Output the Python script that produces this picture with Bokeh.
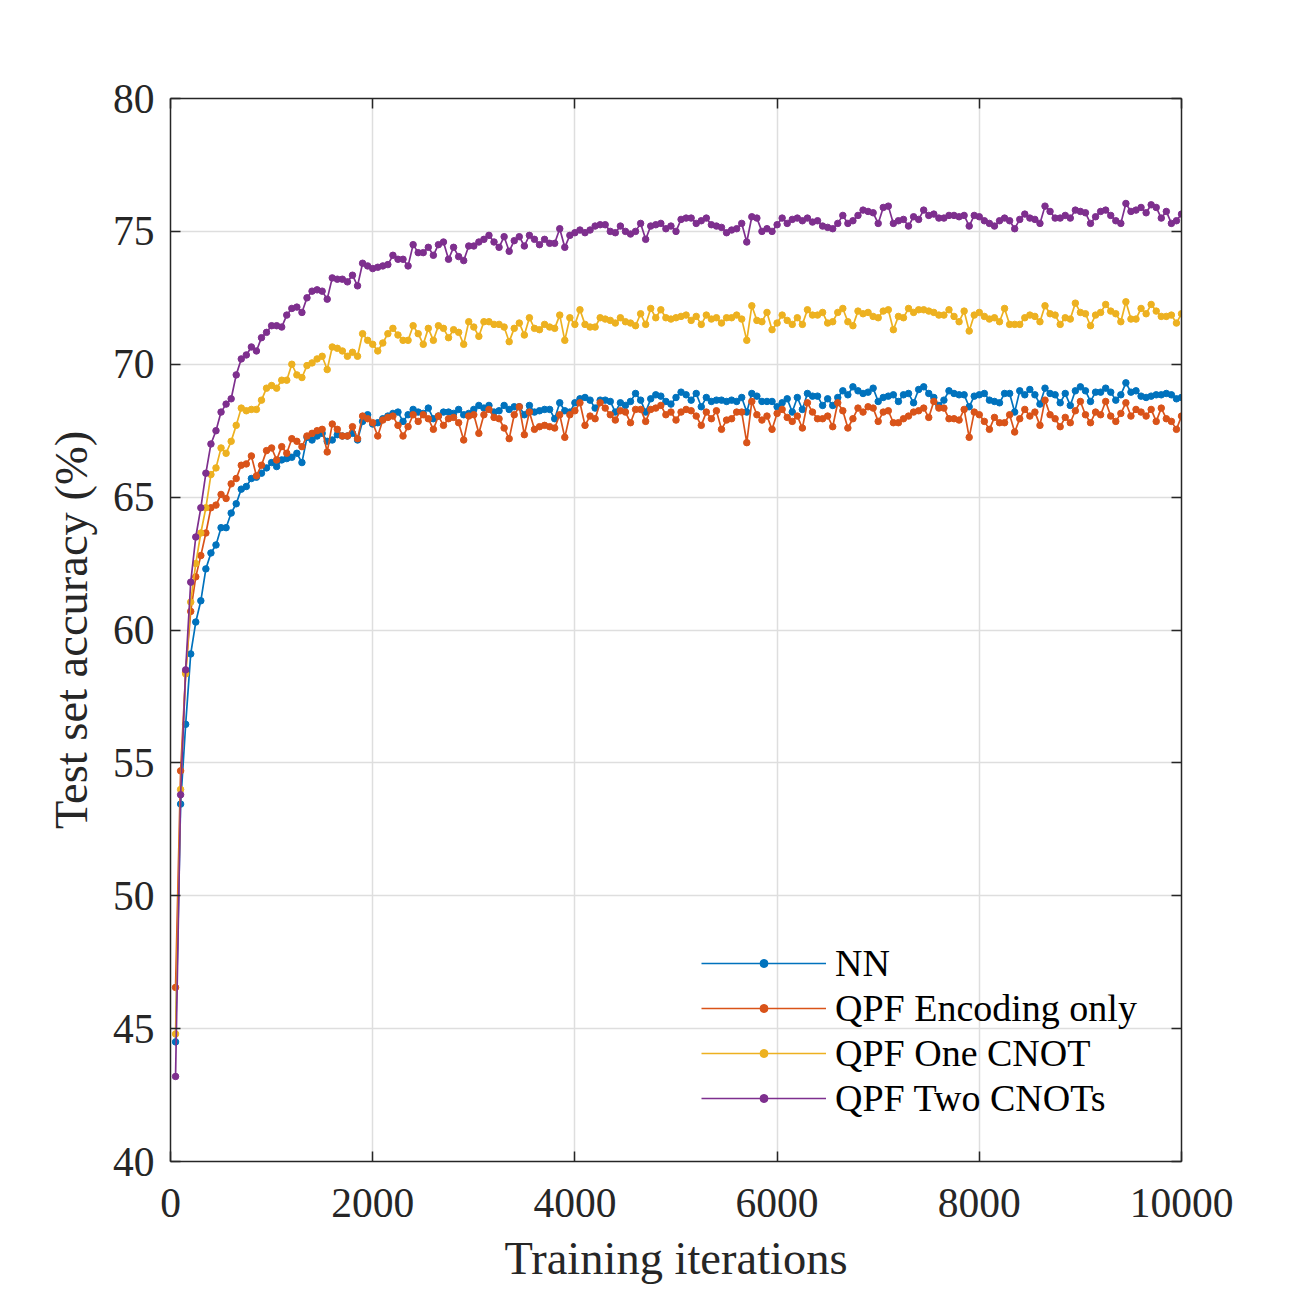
from bokeh.plotting import figure
from bokeh.models import LinearAxis, FixedTicker, Legend, LegendItem, Range1d
from bokeh.embed import file_html
from bokeh.resources import INLINE

iterations = list(range(50, 10050, 50))

nn = [
    44.5, 53.45, 56.45, 59.1, 60.3, 61.1, 62.3, 62.9, 63.2, 63.85,
    63.85, 64.4, 64.75, 65.3, 65.4, 65.7, 65.75, 65.9, 66.1, 66.3,
    66.15, 66.4, 66.45, 66.5, 66.65, 66.3, 67.25, 67.15, 67.3, 67.4,
    67.1, 67.15, 67.35, 67.3, 67.3, 67.4, 67.15, 67.85, 68.1, 67.75,
    67.8, 67.95, 68.05, 68.15, 68.2, 67.85, 68.1, 68.3, 68.2, 68.15,
    68.35, 67.95, 68.05, 68.2, 68.2, 68.15, 68.3, 68.1, 68.15, 68.3,
    68.45, 68.35, 68.45, 68.2, 68.25, 68.45, 68.3, 68.4, 68.4, 68.1,
    68.45, 68.2, 68.25, 68.3, 68.3, 67.95, 68.55, 68.25, 68.2, 68.55,
    68.7, 68.75, 68.65, 68.35, 68.65, 68.65, 68.6, 68.2, 68.55, 68.45,
    68.6, 68.9, 68.65, 68.2, 68.7, 68.85, 68.8, 68.6, 68.5, 68.75,
    68.95, 68.85, 68.65, 68.9, 68.4, 68.75, 68.6, 68.65, 68.65, 68.6,
    68.65, 68.6, 68.75, 68.2, 68.9, 68.8, 68.6, 68.6, 68.6, 68.4,
    68.55, 68.7, 68.2, 68.75, 68.3, 68.9, 68.8, 68.8, 68.45, 68.7,
    68.45, 68.75, 69.0, 68.85, 69.15, 69.0, 68.9, 68.95, 69.1, 68.6,
    68.75, 68.8, 68.85, 68.6, 68.85, 68.9, 68.55, 69.05, 69.15, 68.9,
    68.75, 68.45, 68.65, 69.0, 68.9, 68.85, 68.85, 68.4, 68.8, 68.85,
    68.9, 68.65, 68.6, 68.55, 68.9, 68.9, 68.2, 69.0, 68.85, 69.05,
    68.85, 68.5, 69.1, 68.9, 68.85, 68.55, 68.9, 68.45, 69.0, 69.15,
    69.0, 68.6, 68.95, 68.95, 69.1, 68.95, 68.65, 68.85, 69.3, 68.95,
    69.0, 68.8, 68.75, 68.8, 68.85, 68.85, 68.9, 68.85, 68.7, 68.75,
]

qpf_encoding = [
    46.55, 54.7, 58.4, 60.7, 62.0, 62.8, 63.65, 64.6, 64.7, 65.1,
    64.95, 65.5, 65.7, 66.2, 66.25, 66.55, 65.8, 66.2, 66.75, 66.85,
    66.4, 66.9, 66.65, 67.2, 67.1, 66.9, 67.3, 67.4, 67.5, 67.55,
    66.7, 67.75, 67.55, 67.3, 67.3, 67.65, 67.2, 68.05, 67.95, 67.8,
    67.3, 67.9, 68.0, 68.05, 67.7, 67.3, 67.65, 68.1, 67.85, 68.1,
    67.95, 67.55, 68.05, 67.7, 67.95, 68.0, 67.8, 67.15, 68.05, 68.1,
    67.4, 68.1, 68.3, 68.0, 67.95, 67.6, 67.2, 68.1, 68.4, 67.35,
    68.2, 67.55, 67.65, 67.7, 67.65, 67.6, 68.1, 67.25, 68.1, 68.25,
    68.55, 67.7, 68.05, 67.95, 68.55, 68.35, 68.1, 67.9, 68.25, 68.2,
    67.8, 68.3, 68.3, 67.85, 68.3, 68.35, 68.45, 68.1, 68.2, 67.9,
    68.2, 68.3, 68.25, 68.05, 67.7, 68.2, 67.95, 68.25, 67.55, 67.9,
    67.95, 68.2, 68.2, 67.05, 68.6, 68.1, 67.9, 68.05, 67.55, 68.15,
    68.3, 68.0, 67.85, 68.05, 67.6, 68.55, 68.2, 67.95, 67.95, 68.05,
    67.65, 68.55, 68.25, 67.6, 67.95, 68.35, 68.2, 68.4, 68.35, 67.85,
    68.2, 68.25, 67.8, 67.8, 67.95, 68.05, 68.2, 68.25, 68.35, 68.0,
    68.6, 68.35, 68.35, 67.95, 67.95, 67.9, 68.3, 67.25, 68.2, 68.1,
    67.85, 67.55, 68.0, 67.8, 67.8, 68.1, 67.45, 67.95, 68.3, 68.05,
    68.2, 67.7, 68.65, 68.1, 67.95, 67.65, 68.0, 67.8, 68.25, 68.6,
    68.1, 67.8, 68.2, 68.1, 68.6, 68.05, 67.85, 68.15, 68.55, 68.05,
    68.3, 68.2, 68.05, 68.3, 67.85, 68.35, 67.95, 67.85, 67.55, 68.05,
]

qpf_one_cnot = [
    44.8, 54.0, 58.35, 61.05, 62.5, 63.65, 64.6, 65.85, 66.1, 66.85,
    66.65, 67.1, 67.7, 68.35, 68.25, 68.3, 68.3, 68.65, 69.1, 69.2,
    69.1, 69.4, 69.4, 70.0, 69.6, 69.5, 69.95, 70.05, 70.2, 70.3,
    69.8, 70.65, 70.6, 70.5, 70.3, 70.45, 70.3, 71.15, 70.9, 70.75,
    70.5, 70.8, 71.15, 71.35, 71.1, 70.9, 70.9, 71.45, 71.15, 70.75,
    71.35, 70.9, 71.45, 71.35, 71.0, 71.3, 71.2, 70.75, 71.6, 71.4,
    71.05, 71.6, 71.6, 71.5, 71.5, 71.4, 70.85, 71.35, 71.55, 71.1,
    71.75, 71.35, 71.3, 71.5, 71.4, 71.35, 71.85, 70.9, 71.75, 71.5,
    72.05, 71.5, 71.4, 71.4, 71.75, 71.7, 71.65, 71.55, 71.75, 71.6,
    71.55, 71.45, 71.9, 71.5, 72.1, 71.75, 72.05, 71.75, 71.7, 71.75,
    71.8, 71.85, 71.65, 71.8, 71.5, 71.85, 71.7, 71.75, 71.55, 71.75,
    71.75, 71.85, 71.7, 70.9, 72.2, 71.65, 71.6, 71.95, 71.3, 71.55,
    71.85, 71.65, 71.5, 71.75, 71.5, 72.05, 71.85, 71.85, 71.95, 71.55,
    71.6, 71.95, 72.1, 71.6, 71.45, 72.0, 71.9, 71.95, 71.8, 71.75,
    72.0, 72.05, 71.3, 71.8, 71.75, 72.1, 71.95, 72.05, 72.05, 72.0,
    71.95, 71.85, 71.85, 72.05, 71.8, 71.6, 72.0, 71.25, 71.85, 71.95,
    71.8, 71.7, 71.75, 71.6, 72.1, 71.5, 71.5, 71.5, 71.75, 71.85,
    71.8, 71.6, 72.2, 71.9, 71.85, 71.5, 71.75, 71.7, 72.3, 71.95,
    71.9, 71.45, 71.85, 71.95, 72.25, 72.0, 71.9, 71.6, 72.35, 71.7,
    71.7, 72.1, 71.9, 72.25, 72.0, 71.8, 71.8, 71.85, 71.55, 71.9,
]

qpf_two_cnots = [
    43.2, 53.8, 58.5, 61.8, 63.5, 64.6, 65.9, 67.0, 67.5, 68.2,
    68.5, 68.7, 69.6, 70.2, 70.35, 70.65, 70.5, 71.0, 71.2, 71.45,
    71.45, 71.4, 71.85, 72.1, 72.15, 71.95, 72.5, 72.75, 72.8, 72.75,
    72.45, 73.25, 73.2, 73.2, 73.1, 73.35, 72.95, 73.8, 73.7, 73.6,
    73.65, 73.7, 73.75, 74.1, 73.95, 73.95, 73.7, 74.5, 74.2, 74.2,
    74.4, 74.1, 74.5, 74.6, 73.95, 74.4, 74.05, 73.9, 74.45, 74.45,
    74.6, 74.7, 74.85, 74.6, 74.4, 74.8, 74.25, 74.65, 74.8, 74.45,
    74.85, 74.7, 74.5, 74.7, 74.55, 74.55, 75.1, 74.4, 74.85, 74.95,
    75.05, 74.95, 75.05, 75.2, 75.25, 75.25, 75.0, 74.95, 75.2, 75.0,
    74.9, 75.0, 75.3, 74.7, 75.2, 75.25, 75.3, 75.1, 75.2, 75.0,
    75.45, 75.5, 75.5, 75.3, 75.4, 75.5, 75.25, 75.2, 75.15, 74.95,
    75.05, 75.1, 75.3, 74.6, 75.55, 75.5, 75.0, 75.1, 75.0, 75.25,
    75.5, 75.3, 75.45, 75.5, 75.4, 75.5, 75.35, 75.4, 75.2, 75.15,
    75.1, 75.3, 75.6, 75.3, 75.4, 75.6, 75.8, 75.75, 75.7, 75.3,
    75.9, 75.95, 75.3, 75.4, 75.45, 75.2, 75.55, 75.45, 75.8, 75.6,
    75.65, 75.5, 75.5, 75.6, 75.6, 75.55, 75.6, 75.2, 75.6, 75.55,
    75.4, 75.3, 75.2, 75.4, 75.5, 75.4, 75.1, 75.45, 75.65, 75.5,
    75.45, 75.3, 75.95, 75.75, 75.5, 75.5, 75.6, 75.5, 75.8, 75.75,
    75.7, 75.3, 75.55, 75.75, 75.8, 75.6, 75.4, 75.3, 76.05, 75.75,
    75.8, 75.9, 75.7, 76.0, 75.9, 75.5, 75.75, 75.3, 75.4, 75.65,
]

series_names = ["NN", "QPF Encoding only", "QPF One CNOT", "QPF Two CNOTs"]
series_values = [nn, qpf_encoding, qpf_one_cnot, qpf_two_cnots]
series_colors = ["#0072BD", "#D95319", "#EDB120", "#7E2F8E"]

x_ticks = [0, 2000, 4000, 6000, 8000, 10000]
y_ticks = [40, 45, 50, 55, 60, 65, 70, 75, 80]

FONT = "Liberation Serif"
AXC = "#262626"

p = figure(width=1290, height=1290, output_backend="svg", toolbar_location=None,
           x_range=Range1d(0, 10000), y_range=Range1d(40, 80),
           min_border_left=170, min_border_right=109, min_border_top=98, min_border_bottom=129,
           x_axis_label="Training iterations", y_axis_label="Test set accuracy (%)")
p.outline_line_color = None
p.background_fill_color = "white"
p.border_fill_color = "white"

p.xaxis.ticker = FixedTicker(ticks=x_ticks)
p.yaxis.ticker = FixedTicker(ticks=y_ticks)
p.xgrid.ticker = FixedTicker(ticks=x_ticks)
p.ygrid.ticker = FixedTicker(ticks=y_ticks)
p.grid.grid_line_color = "#dedede"
p.grid.grid_line_width = 1.5

for ax in [p.xaxis[0], p.yaxis[0]]:
    ax.axis_line_color = AXC
    ax.axis_line_width = 1.5
    ax.major_tick_line_color = AXC
    ax.major_tick_line_width = 1.5
    ax.major_tick_in = 10
    ax.major_tick_out = 0
    ax.minor_tick_line_color = None
    ax.major_label_text_font = FONT
    ax.major_label_text_font_size = "41.5px"
    ax.major_label_text_color = AXC
    ax.axis_label_text_font = FONT
    ax.axis_label_text_font_size = "46.5px"
    ax.axis_label_text_font_style = "normal"
    ax.axis_label_text_color = AXC

p.xaxis.major_label_standoff = 27
p.xaxis.axis_label_standoff = 13
p.yaxis.major_label_standoff = 16
p.yaxis.axis_label_standoff = 13

for loc in ["right", "above"]:
    ax = LinearAxis(ticker=FixedTicker(ticks=(y_ticks if loc == "right" else x_ticks)))
    ax.axis_line_color = AXC
    ax.axis_line_width = 1.5
    ax.major_tick_line_color = AXC
    ax.major_tick_line_width = 1.5
    ax.major_tick_in = 10
    ax.major_tick_out = 0
    ax.minor_tick_line_color = None
    ax.major_label_text_font_size = "0px"
    ax.major_label_text_alpha = 0
    p.add_layout(ax, loc)

items = []
for name, vals, col in zip(series_names, series_values, series_colors):
    r1 = p.line(iterations, vals, line_color=col, line_width=1.7)
    r2 = p.scatter(iterations, vals, marker="circle", size=6.5, fill_color=col, line_color=col)
    items.append(LegendItem(label=name, renderers=[r1, r2]))

legend = Legend(items=items, location=(531, 41))
legend.border_line_color = None
legend.background_fill_alpha = 0
legend.padding = 0
legend.margin = 0
legend.spacing = 0
legend.glyph_width = 125
legend.glyph_height = 20
legend.label_height = 45
legend.label_standoff = 9
legend.label_text_font = FONT
legend.label_text_font_size = "38px"
legend.label_text_color = "#000000"
p.add_layout(legend, "center")

open("out.html", "w").write(file_html(p, INLINE))
